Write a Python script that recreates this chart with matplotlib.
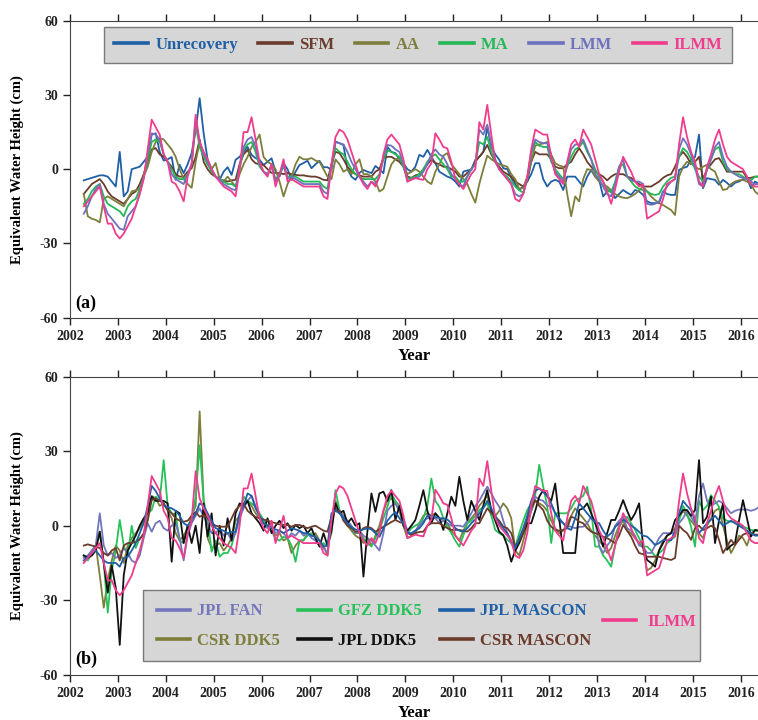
import numpy as np
import matplotlib
matplotlib.use("Agg")
import matplotlib.pyplot as plt
from matplotlib.patches import Rectangle

plt.rcParams['font.family'] = ['Liberation Serif', 'DejaVu Serif']
plt.rcParams['font.weight'] = 'bold'
plt.rcParams['axes.unicode_minus'] = False

# monthly values, Apr 2002 .. May 2016 (cm of equivalent water height)
start_year, start_month, n_months = 2002, 4, 170

# ---- panel (a) ----
ilmm = [-15, -13, -11, -9, -7, -15, -22, -22, -26,
        -28, -26, -23, -20, -15, -10, -4, 8, 20, 17, 14, 6,
        3, -5, -6, -9, -13, -3, 2, 22, 11, 7, 4, 0,
        -3, -5, -7, -8, -9, -11, 0, 15, 15, 21, 12, 3,
        -1, -3, 2, -7, -2, 4, -5, -4, -5, -6, -7, -7,
        -7, -7, -7, -11, -12, 2, 13, 16, 15, 12, 7, 2,
        -3, -6, -8, -5, -7, -3, 6, 12, 14, 12, 10, 4,
        -5, -4.3, -3.6, -4, -4.3, 0, 2.4, 14.5, 12, 9, 8.4, 3,
        -4, -6, -8, -5, -2, 0, 19, 16, 26, 14, 3, 0,
        -2, -4, -6, -12, -13, -10, -3, 8, 16, 15, 14, 14,
        5, -2, -4, -6, 3, 10, 12, 9, 16, 13, 10, 4,
        -2, -5, -9, -14, -8, -1, 5, 2, -1, -5, -7, -6,
        -20, -19, -18, -17, -12, -6, -5, -4, 10, 21, 13, 7,
        3, -5, -7, 1, 6, 12, 16, 10, 5, 3, 2, 1,
        0, -3, -6, -7, -7]

unrecovery = [-4.5, -4, -3.5, -3, -2.5, -2.5, -3, -5, -7,
              7, -11, -9, 0, 0.5, 1, 3, 5, 14, 14.5, 7, 3.5,
              4, 4.9, -4.3, 1.8, -1.6, 2, 6.5, 15.6, 28.7, 14.5, 3.8, 0,
              -3, -4.3, -1, 0.8, -2.3, 3.8, 5, 7, 9, 5.8, 4.5, 3.8,
              1.7, 3, 4.4, -1, -3, 2.4, 0, -4.3, -1, 1.7, 2.5, 3.4,
              0.4, 2, 3.4, 0.8, 0.8, -0.3, 11.2, 10.5, 9.8, 0, -3, -4.3,
              -1.5, -0.3, -1, -1.6, 1.3, 0, -1.6, 9, 7, 6.5, 4, 2.4,
              0, -1, 1, 5.8, 5, 7.8, 5, 2.4, -1, -2, -3, -3.6,
              -5, -7, -1, -0.5, -0.3, 3.8, 5, 7, 17, 9, 6, 3.8,
              0.4, 0, -3.6, -6, -8.4, -7, -5, -2, 2.4, 2.4, -4, -7,
              -5, -4.3, -5, -8.4, -3, -3, -3, -5, -7, -3, -0.3, -3,
              -4.3, -11, -9, -8.4, -11.7, -10, -8.4, -9.5, -10.4, -8.4, -9, -10.4,
              -13, -13.7, -13.7, -13.7, -9, -10, -10.4, -10.4, -0.3, 0.5, 1, 3.8,
              5, 14, -7.7, -3.6, -4, -4.3, -6.3, -4.3, -5.5, -7, -5.5, -5,
              -4, -3.6, -7.7, -5, -6]

sfm = [-10, -8, -6, -5, -4, -6, -9, -11, -12,
       -13, -14, -12, -10, -9, -6, -2, 3, 8, 8.5, 6, 5,
       3, 1, -2, -3, -3, -1, 0.4, 5, 12, 3, 0, -2,
       -3, -4.3, -4.5, -5, -4.5, -4.3, 2, 6, 7.8, 4, 2.4, 2,
       1.7, 0, -1.5, -1.5, -1.6, -2, -1.5, -2, -2.3, -2.5, -2.5, -2.8,
       -3, -3, -3.5, -4.3, -4.5, 2, 7, 6.5, 4, 1, -1, -2,
       -2.5, -3, -3, -3, -1, 0, 4.5, 5, 5, 4, 3, 1,
       -3, -3.5, -2.5, -2, 0, 2, 3.8, 2.5, 2, 1, 1, 0,
       -1, -3, -3, -1.5, 0, 3, 5, 7, 9.8, 6, 3, 1,
       -1, -2, -3, -5, -6, -7, -5, 3, 7, 6, 6, 6,
       4, 1, 0.4, 0.4, 2, 3, 6, 8.5, 6, 3, 1, -1,
       -2, -3, -4.5, -3, -2, -2, -2, -3, -3.5, -5, -6, -7,
       -7, -7, -6, -5, -3.5, -2.5, -2, 1, 5, 7, 5, 2,
       3, 5, -4, 0, 2, 4, 4.5, 2, -1, -1, -1, -1,
       -1, -3.5, -3.5, -3, -3]

aa = [-10, -19, -20, -20.5, -21.5, -12, -11, -12, -13,
      -14, -15, -12, -9, -8.5, -8, -3, 1, 7, 11, 12.5, 12,
      10, 8, 5, 0, -4, -6, -7.5, 3, 11, 6, 2, 0,
      2.5, -4, -5, -3, -5, -7, -2, 2, 5, 9, 11, 14,
      5, 3, 2, 0, -5, -11, -6, -3, 2, 5, 4, 4,
      4.5, 3.5, 3, 0, -3, -4, 4, 2, -1, 0, -2, 2,
      4, -2, -2, -3, -5, -9, -8, -3, 2, 4, 4.5, 2,
      -2, -1, 0, -1, -3, -5, -6, -1, 2, 5.5, 6.5, 2,
      0, -2, -4, -6, -10, -13.5, -6, 0, 5.5, 4, 3, 2,
      1.5, 1, -2, -4, -8, -7.5, -3, 3, 9.5, 10, 10.4, 11,
      6, 2.4, 1.5, 1, -10, -19, -11, -13, -4, 0, -0.3, -3,
      -5, -6.5, -7, -8.5, -10, -11, -11.5, -11.7, -11, -10, -8.5, -7,
      -9, -11, -12.5, -13.7, -14.5, -15.5, -16.5, -18.5, -3, 1, 3, 2.4,
      1, 0, 1, 1.8, 0, -1, -5, -8.4, -8, -6, -5, -4.5,
      -4.3, -5, -6, -9, -10.4]

ma = [-14, -12, -9, -7, -6, -11, -14, -15, -16,
      -17, -19, -15, -13, -12, -8, -3, 4, 11, 12, 11, 6,
      3, 0, -3, -4, -4, -2, 2, 18, 9, 5, 2, -1,
      -3, -4, -5, -6, -6, -7, 0, 8, 10, 11, 7, 1,
      -1, -2, 1, -4, -2, 1, -3, -3, -3, -4, -5, -5,
      -5, -5, -5, -7, -8, 2, 8.5, 7, 6, 3, 0, -2,
      -3, -4, -4, -4, -4, -2, 4, 7.5, 7, 6, 5, 1,
      -4, -3.5, -3, -2, 0, 3, 5, 6, 4, 2, 0, -3,
      -3, -5, -5, -3, 0, 2, 11, 10, 13, 7, 3, 0,
      -2, -3, -5, -7, -8.5, -9.5, -4, 6, 11, 9.5, 9, 9,
      3, 0, -2, -4, 1, 5, 8, 9, 11, 7, 4, 0,
      -3, -5, -8, -9.5, -5, 1, 2, -3, -5, -7, -8, -8.5,
      -9, -10, -10.4, -10, -7, -5, -3.5, -3, 5, 8.5, 7, 4,
      0, -3, -5, 0, 4, 8, 9, 3, 0, -1, -2, -2,
      -3, -4, -4.5, -3, -3]

lmm = [-18, -15, -11, -8, -6, -14, -18, -20, -22,
       -24, -24.5, -19, -17, -15, -10, -3, 6, 14.5, 14, 12, 6,
       3, -2, -4, -5, -6, -2, 2, 20, 11, 6, 3, 0,
       -3, -4, -6, -7, -8, -8.5, 1, 9, 12, 13, 9, 2,
       -1, -2, 2, -5, -2, 2, -4, -3, -4, -5, -6, -6,
       -6, -6, -6, -9, -10, 2, 11, 10.5, 10, 7, 3, 0,
       -3, -5, -7, -5, -6, -3, 5, 9.8, 9.5, 8, 7, 2,
       -5, -4, -3.5, -3, -1, 2, 6, 8, 6, 5, 2, -2,
       -4, -6, -7, -3, 0, 2, 16, 14, 18, 10, 4, 0,
       -2, -4, -6, -10, -11, -10, -4, 7, 12, 11, 10.5, 10.5,
       4, -1, -3, -5, 2, 8, 10, 10, 12, 8, 4, -2,
       -4, -7, -10, -11, -6, 1, 4, -3, -4.5, -5, -5, -6,
       -14, -14.4, -14, -13, -9, -7, -5, -4, 8, 12.5, 10, 6,
       1, -6, -7, 0, 4, 9, 11, 5, 1, -1, -2, -3,
       -3.5, -4, -5, -6, -6]

# ---- panel (b) ----
jpl_fan = [-13, -12, -10, -8, 5, -8, -12, -11, -13,
           -12, -9, -11, -14, -15, -12, -5, 1, -2.4, 1, 2, -1,
           -2, 0, 1, -5, -14, -4, 1, 4, 7, 4, 1, -3,
           -3, -1, -4, -3, -6, -3, 3, 7, 10, 12, 8, 3,
           1, -1, 0, -3, -2, -3, -5, -3, -4, -2, -4, -3,
           -5, -6, -8, -9, -11, 4, 7, 6, 4, 2, 0, -3,
           -2, -4, -5, -6, -8, -10, -3, 6, 8, 9, 6, 3,
           -2, -4, -2, 0, 2, 3, 3, 3, 1, 2, 1, 0,
           0, 0, -0.4, 2, 5, 8, 10, 13, 15.7, 13, 10, 7.6,
           2, -3, -7, -10.5, -6, -2, 2.3, 6, 11.7, 10.5, 10, 8,
           8, 5, 2, 1, 0, -0.5, -1, -0.5, -0.4, 1, 3.6, 2,
           -8, -11, -8, -6, 0, 2, 3.6, -1, -2, -4, -8, -8.4,
           -11, -11, -8, -5, -3, -3, -3, -3, 1, 3, 6, 3.6,
           1, 12, 17, 10, 8, 9, 10, 9, 7, 5, 6, 6.5,
           6.5, 6.5, 6, 6.5, 7.5]

gfz_ddk5 = [-12, -14, -11, -8, -2.4, -15, -35, -18, -10,
            2.3, -8, -12, 0, -9, -5, -4, 5, 6.3, 11.7, 10, 26.4,
            8, 5, 4.6, -6, -7, 0, 2, 11.7, 32.4, 10, 3, -10.5,
            -6, -12.5, -11, -11, -8, -2, 4, 11.7, 10, 9, 7.6, 5,
            2.3, 0, -2.4, -5, -6, -4.5, -5, -8, -14.5, -6, -5.7, -4,
            -3, -5, -8.4, -7, -8.4, -3, 14.3, 6.3, 3.6, 1, -1, -3,
            -3, -5, -7, -8.4, -5, -2, 3, 7.6, 12.9, 10, 8, 2.3,
            -3, -1, 0, 1, 3, 8, 19, 10, 7.6, 3, -0.4, -3,
            -6, -8.4, -4, 1, 2, 4, 6.3, 7.5, 9, 4, -1.7, -3,
            -4, -5.7, -7, -8.4, -3, 2, 6.3, 9, 12.3, 24.5, 15.7, 8,
            -7, 5, 5, 5, 5, 7, 10, 11, 12, 15.7, 6.3, -8.4,
            -8.4, -12, -14, -16.5, -8, -0.4, 2, 3.6, 1, -1.7, -5, -8.4,
            -8.4, -10, -12.4, -11, -9.7, -7, -5.7, -4.4, 2, 8, 5, -0.4,
            -8.4, 10, 6.3, 8, 12.3, 10, 7.6, 3, 2, 1.6, 1.6, 1,
            -0.4, -1, -1.7, -2, -2]

jpl_mascon = [-14, -12.5, -11, -10, -12, -14, -15, -15, -15,
              -16.5, -13, -12.5, -10, -7, -3, 1, 8, 16, 14, 11, 8,
              7.5, 7, 6, 4, 1, 0, 2, 5, 9, 8, 5, 2,
              -1, -1.5, -2, -3, -2.5, -2.5, 5, 8, 13, 12, 7, 4,
              1, 0, -1, -1.5, -2, -3, -2, -1, -1.5, -2, -3, -3,
              -4, -4.5, -6, -8.4, -8, 5, 6, 5, 3, 1, -0.5, -1.5,
              -2, -1.5, -1, -1.5, -3, -4.5, -1, 2, 4, 5.5, 3, 1,
              -3, -3, -2, -1, 1, 4, 4, 3.5, 3, 3, 2.5, 1,
              -1, -2, -2.4, -1, 1, 2.5, 5, 7, 10, 7, 4, 1,
              -1, -3, -6, -9, -5, -1, 4, 10, 14, 15, 13.5, 12,
              9, 5, 3, 1, -1, -1.7, 3, 9, 7, 5, 3, 1.5,
              1, -2, -4.4, -3, -0.5, 1, 2.4, 1.5, 0, -1, -2.5, -4,
              -4.4, -6, -7.8, -7, -5.8, -5.8, -5.8, -2, 5, 10, 8, 6.3,
              2, -3, -1, 1, 2.4, 4, 2, 0, 1, 2, 1, 0,
              -1, -2, -3, -4, -4]

csr_ddk5 = [-12, -13, -10, -8, -20, -33, -22, -14, -8,
            -10, -15, -8, -5, -3, -1, 2, 6, 12, 11, 8, 9,
            6, 3, -3, -6, -4, -1, 4, 8, 46, 10, -5, -9,
            -8, -7, -10, -8, -5, 2, 4, 9, 10, 8, 5, 3,
            1, -1, -2, -4, -3, -6, -5, -11, -8, -6, -6, -3,
            -4, -3, -6, -8, -12, 3, 10, 6, 3, 0, -2, -4,
            -5, -7, -5, -8, -4, 0, 6, 10, 11, 9, 6, 0,
            -5, -4, -3, 1, 4, 5, 4, 5, 3, 2, 1, -2,
            -4, -6, -2, 1, 3, 5, 8, 10, 12, 6, 4, 6,
            9, 7, 3, -10, -12, -6, 0, 6, 10, 9, 8, 6,
            2, -1, -3, -2, 1, 4, 7, 5, 3, 1, -2, -4,
            -6, -8, -11, -9, -4, 0, 2, -2, -3, -5, -7, -9,
            -18, -17, -14, -10, -6, -4, -3, -1, 3, 6, 4, 2,
            0, -3, -5, 0, 3, 6, 7, 0, -6, -11, -8, -4,
            -5, -8, -3, -2, -2]

jpl_ddk5 = [-12, -13, -12, -10, -2.4, -15, -27, -16, -25,
            -48, -20, -10, -7, -4, 0, 3, 5, 11.7, 10, 10, 10,
            9, -14.5, 6, 5, -7, 0, -7, 0, -11, 9, -4.4, 5,
            -12, 0, -8, 3, -6, 5, 9, 8, 10, 5, 3, 1,
            -2, 3, -3, 0, 2, -1, 1, -2, 0.3, -1, 0, -3,
            -1, -5, -8.4, -3, -8, -2, 9, 5, 6, 1, 3, 0,
            1, -20.5, -2, 13, 5.6, 13, 13.7, 10, 14.3, 2.3, 8, 0,
            -2, 0, 2.3, 8, 14.3, 6, 1, 5, 3, -1.7, 5, 11.7,
            8, 19.7, 10, 2.3, 10, 6, 2.3, 8, 14.3, 6.3, 2, -2.4,
            -3.8, -8, -14.5, -10, -7, -3, 1, 1, 6, 11.7, 14.3, 12,
            10, 17, 3, -11, -11, -11, -11, 6.3, 7, 9, 5, 1,
            -3, -8.4, -3, 2.3, 2.3, 6, 10.3, 6, 2.3, 5, 9, -8.4,
            -13.8, -15, -16.5, -10, -7, -4, -3, 2.3, 4, 6.3, 6.3, 4,
            6.3, 26.4, 1, 3.6, 11.7, -7, 2, 9, -9.7, -8, -7, 2,
            10.3, 3, -4.4, -1.7, -2]

csr_mascon = [-8, -7.5, -8, -8.4, -9, -11, -12, -10, -9,
              -14, -8, -7, -7, -6.5, -5.5, -3, 2, 10.3, 11, 10, 9,
              6.3, 5, 3, 2, 1.6, 2, 4, 5.5, 3.6, 4.3, 3, 1,
              0, -0.4, -0.4, -0.4, 3, 6.3, 8, 9, 6, 4.6, 3.5, 3,
              2.5, 2, 1.5, 1, 0.5, 0.3, 0.3, -0.4, 0.3, 0.3, -0.4, -1,
              -0.4, 0, -1, -2, -2.4, 3.6, 6.3, 6, 2, 0, -1, -2.4,
              -2.4, -1, -0.4, -1, -2.4, -1.5, -0.4, 0.5, 1.5, 2.3, 1.5, 1,
              -3, -3.6, -3, -2.5, -2.4, 0, 1, 1, 1, 0, -1, -1.7,
              -1.7, -1.7, -2, -2.4, -1, 1, 1, 4, 7, 5, 3.6, 2,
              -0.4, -1, -3, -8.4, -6, -3, 3, 7, 10.3, 8, 6.3, 2,
              -0.4, -1.7, -2, -1.7, -1, 3.6, 3, 1.6, 1, -1, -2.4, -3,
              -3.6, -4.4, -5, -6, -7, -4, 0.3, -2, -4.4, -8, -11, -11.5,
              -12.5, -12.5, -12.5, -12.5, -13, -13.4, -13.8, -13, 0, -1.7, -3, -5.7,
              -1, 0, -1.7, -1, 0, -1, -5.7, -11, -8.4, -5.7, -7.7, -5.7,
              -3.6, -3, -3, -3.6, -3.6]

months = start_month - 1 + np.arange(n_months)
years = start_year + (months + 0.5) / 12.0

panel_a = [
    ("Unrecovery", unrecovery, "#1f5fa6"),
    ("SFM", sfm, "#6b3b2b"),
    ("AA", aa, "#7d7d3c"),
    ("MA", ma, "#24b856"),
    ("LMM", lmm, "#6c72bd"),
    ("ILMM", ilmm, "#f03c8c"),
]

# legend order (column-major, 3 columns x 2 rows)
panel_b = [
    ("JPL FAN", jpl_fan, "#7376bd"),
    ("CSR DDK5", csr_ddk5, "#7d7d3c"),
    ("GFZ DDK5", gfz_ddk5, "#27c15a"),
    ("JPL DDK5", jpl_ddk5, "#111111"),
    ("JPL MASCON", jpl_mascon, "#1f5fa6"),
    ("CSR MASCON", csr_mascon, "#6b3b2b"),
]
draw_order_b = ["CSR DDK5", "GFZ DDK5", "JPL FAN", "JPL DDK5", "CSR MASCON", "JPL MASCON"]

W, H = 758, 720
fig = plt.figure(figsize=(W / 100, H / 100), dpi=100)
ax1 = fig.add_axes([69.8 / W, (H - 317.7) / H, (W - 69.8) / W, 297 / H])
ax2 = fig.add_axes([69.8 / W, (H - 674.7) / H, (W - 69.8) / W, 298 / H])

lw = 1.3


def style_axes(ax, tag):
    ax.set_xlim(2002, 2016.355)
    ax.set_ylim(-60, 60)
    ax.set_xticks(range(2002, 2017))
    ax.set_yticks([-60, -30, 0, 30, 60])
    ax.tick_params(direction='out', top=True, length=5, width=1, labelsize=10, colors='#222222')
    ax.spines['right'].set_visible(False)
    for s in ['left', 'top', 'bottom']:
        ax.spines[s].set_color('#444444')
    ax.set_xlabel("Year", fontsize=12, fontweight='bold', labelpad=4)
    ax.set_ylabel("Equivalent Water Height (cm)", fontsize=10.5, fontweight='bold', labelpad=11)
    ax.text(0.008, 0.05, tag, transform=ax.transAxes, fontsize=13, fontweight='bold',
            ha='left', va='center')


# panel (a)
for name, vals, col in panel_a:
    ax1.plot(years, vals, color=col, lw=lw, label=name)
style_axes(ax1, "(a)")
leg_a = ax1.legend(loc='center', bbox_to_anchor=(0.038, 0.857, 0.937, 0.125), mode='expand',
                   ncol=6, fontsize=12, handlelength=2.0, handletextpad=0.45,
                   borderpad=0.6, fancybox=False, framealpha=1,
                   facecolor='#d6d6d6', edgecolor='#7a7a7a')
for txt, ln in zip(leg_a.get_texts(), leg_a.get_lines()):
    txt.set_color(ln.get_color())
    ln.set_linewidth(2.6)

# panel (b)
lines_b = {}
for name, vals, col in panel_b:
    lines_b[name] = (vals, col)
handles_b = {}
for name in draw_order_b:
    vals, col = lines_b[name]
    handles_b[name], = ax2.plot(years, vals, color=col, lw=lw, label=name)
ilmm_line, = ax2.plot(years, ilmm, color="#f03c8c", lw=lw, label="ILMM")
style_axes(ax2, "(b)")

ax2.add_patch(Rectangle((0.107, 0.047), 0.808, 0.237, transform=ax2.transAxes,
                        facecolor='#d6d6d6', edgecolor='#7a7a7a', lw=1, zorder=5))
leg_b1 = ax2.legend([handles_b[n] for n, _, _ in panel_b], [n for n, _, _ in panel_b],
                    loc='center left', bbox_to_anchor=(0.114, 0.163), ncol=3, fontsize=12,
                    frameon=False, borderpad=0, handlelength=2.0, handletextpad=0.4,
                    columnspacing=1.1, labelspacing=0.8)
leg_b1.set_zorder(6)
ax2.add_artist(leg_b1)
leg_b2 = ax2.legend([ilmm_line], ["ILMM"], loc='center left', bbox_to_anchor=(0.762, 0.176),
                    fontsize=12, frameon=False, borderpad=0, handlelength=2.0, handletextpad=0.7)
leg_b2.set_zorder(6)
for leg in (leg_b1, leg_b2):
    for txt, ln in zip(leg.get_texts(), leg.get_lines()):
        txt.set_color(ln.get_color())
        ln.set_linewidth(2.6)

fig.savefig("out.png", dpi=100)
